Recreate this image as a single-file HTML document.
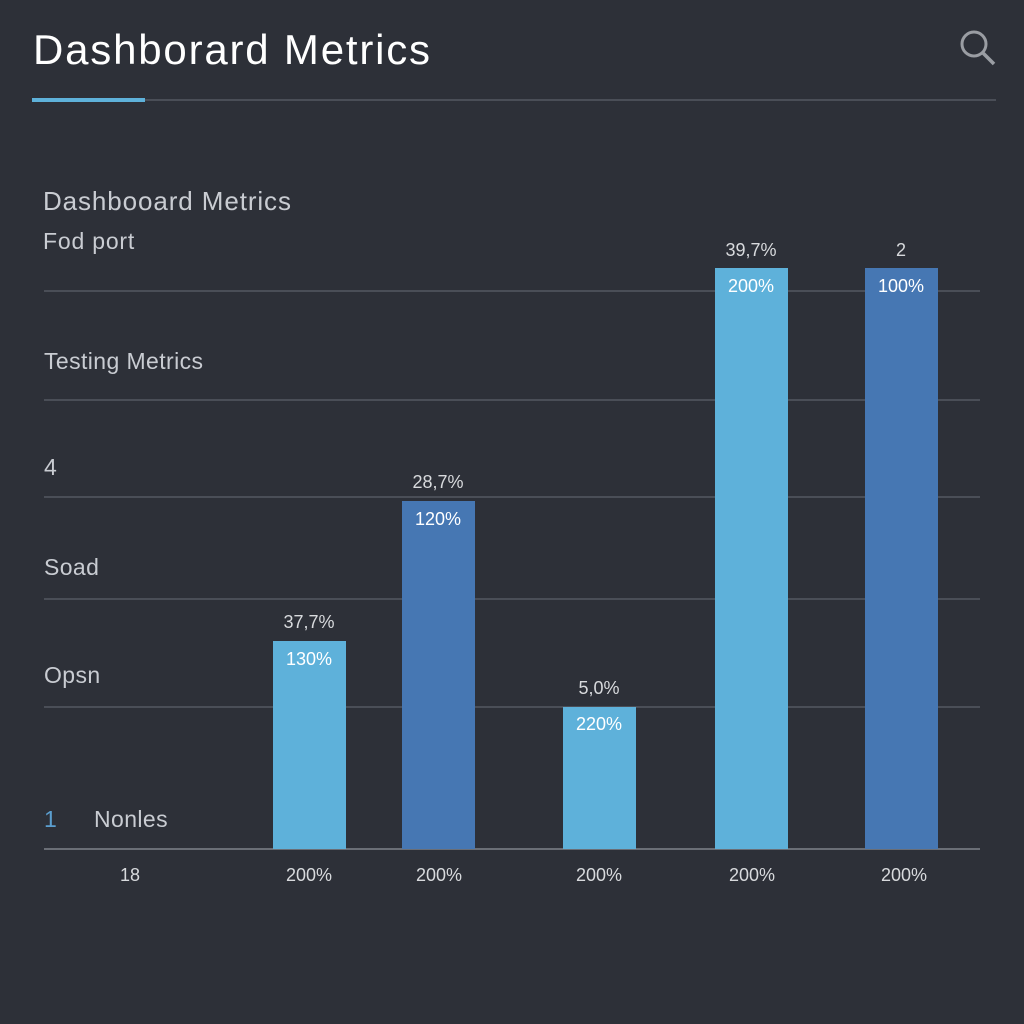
<!DOCTYPE html><html><head><style>
body{margin:0;width:1024px;height:1024px;background:#2d3038;font-family:"Liberation Sans",sans-serif;position:relative;overflow:hidden}
div{position:absolute}
.t{color:#c9ccd2;font-size:23px;letter-spacing:0.4px}
.g{left:44px;width:936px;height:2px;background:#4a4e57}
.b{width:73px}
.l{background:#5eb1da}.d{background:#4677b3}
.v{color:#fff;font-size:18px;width:100px;text-align:center}
.a{color:#d8dadd;font-size:18px;width:100px;text-align:center}
.x{color:#d8dadd;font-size:18px;top:865px;width:100px;text-align:center}
</style></head><body>
<div style="left:33px;top:26px;color:#fff;font-size:42px;letter-spacing:1.8px">Dashborard Metrics</div>
<svg style="position:absolute;left:957px;top:27px" width="42" height="42"><circle cx="17" cy="17" r="12" fill="none" stroke="#9a9da3" stroke-width="3"/><line x1="26" y1="26" x2="37" y2="37" stroke="#9a9da3" stroke-width="3.5"/></svg>
<div style="left:32px;top:99px;width:964px;height:2px;background:#4a4e57"></div>
<div style="left:32px;top:98px;width:113px;height:4px;background:#5eb1da"></div>
<div class="t" style="left:43px;top:186px;font-size:26px;letter-spacing:0.9px">Dashbooard Metrics</div>
<div class="t" style="left:43px;top:228px;letter-spacing:0.8px">Fod port</div>
<div class="t" style="left:44px;top:348px">Testing Metrics</div>
<div class="t" style="left:44px;top:454px">4</div>
<div class="t" style="left:44px;top:554px">Soad</div>
<div class="t" style="left:44px;top:662px">Opsn</div>
<div class="t" style="left:44px;top:806px;color:#5b9fd0">1</div>
<div class="t" style="left:94px;top:806px">Nonles</div>
<div class="g" style="top:290px"></div><div class="g" style="top:399px"></div><div class="g" style="top:496px"></div><div class="g" style="top:598px"></div><div class="g" style="top:706px"></div><div class="g" style="top:848px;background:#6a6e76"></div>
<div class="b l" style="left:273px;top:641px;height:208px"></div>
<div class="b d" style="left:402px;top:501px;height:348px"></div>
<div class="b l" style="left:563px;top:707px;height:142px"></div>
<div class="b l" style="left:715px;top:268px;height:581px"></div>
<div class="b d" style="left:865px;top:268px;height:581px"></div>
<div class="a" style="left:259px;top:612px">37,7%</div><div class="v" style="left:259px;top:649px">130%</div>
<div class="a" style="left:388px;top:472px">28,7%</div><div class="v" style="left:388px;top:509px">120%</div>
<div class="a" style="left:549px;top:678px">5,0%</div><div class="v" style="left:549px;top:714px">220%</div>
<div class="a" style="left:701px;top:240px">39,7%</div><div class="v" style="left:701px;top:276px">200%</div>
<div class="a" style="left:851px;top:240px">2</div><div class="v" style="left:851px;top:276px">100%</div>
<div class="x" style="left:80px">18</div><div class="x" style="left:259px">200%</div><div class="x" style="left:389px">200%</div><div class="x" style="left:549px">200%</div><div class="x" style="left:702px">200%</div><div class="x" style="left:854px">200%</div>
</body></html>
